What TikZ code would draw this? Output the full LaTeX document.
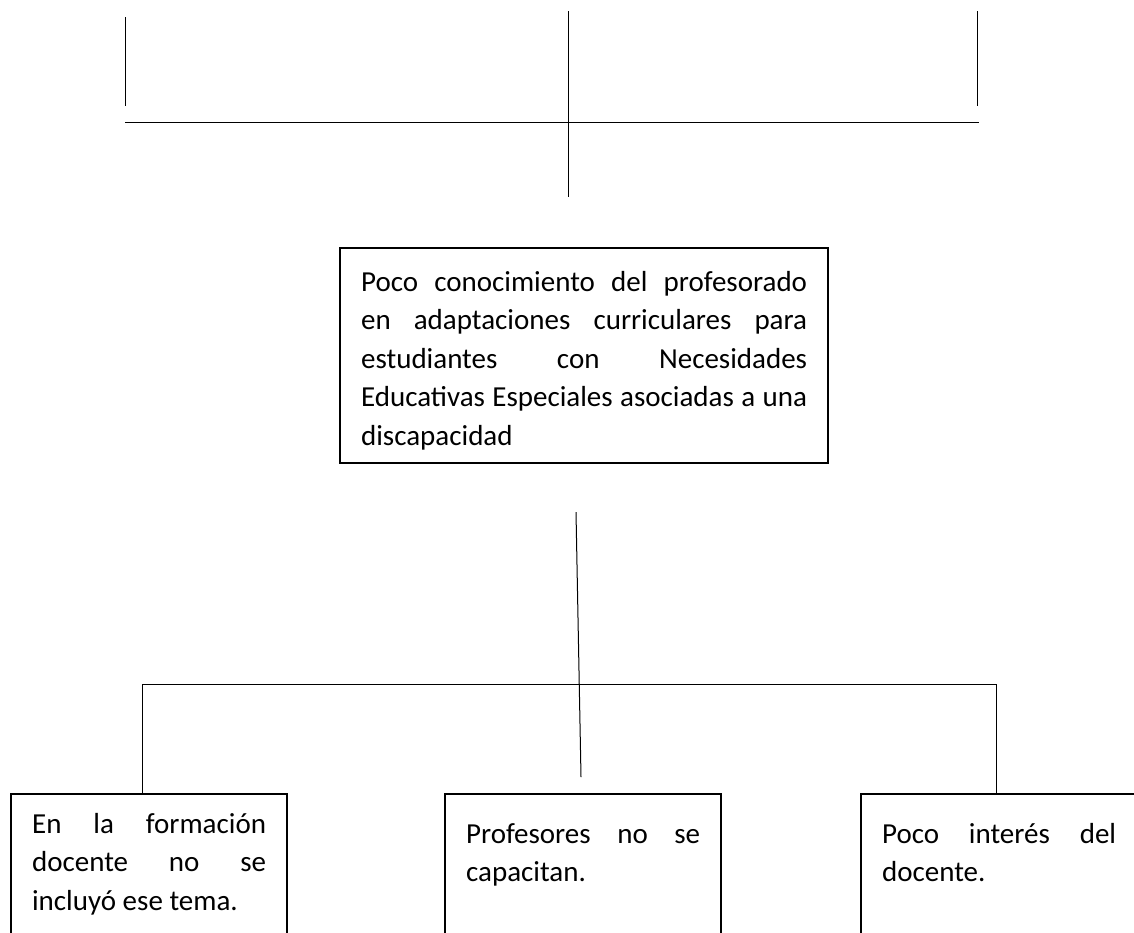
\documentclass[tikz,border=0pt]{standalone}
\usepackage{fontspec}
\setmainfont{Carlito}
\usetikzlibrary{calc}
\tolerance=10000
\hyphenpenalty=10000
\tikzset{
  caja/.style={draw, line width=2.2pt, inner xsep=21pt, inner ysep=0pt,
    align=justify, anchor=base west, font=\fontsize{29}{38.5}\selectfont},
  linea/.style={line width=1pt}
}

\begin{document}
\begin{tikzpicture}[x=1pt,y=-1pt]
\useasboundingbox (0,0) rectangle (1134,932);
\clip (0,0) rectangle (1134,932);
%
% lineas de arriba
\coordinate (a1) at (125,17);
\coordinate (a2) at (125,106);
\coordinate (b1) at (568,11);
\coordinate (b2) at (568,197);
\coordinate (c1) at (977,11);
\coordinate (c2) at (977,106);
\coordinate (h1) at (125,122);
\coordinate (h2) at (979,122);
\draw[linea] (a1) -- (a2);
\draw[linea] (b1) -- (b2);
\draw[linea] (c1) -- (c2);
\draw[linea] (h1) -- (h2);
%
% problema
\node[caja, text width=446pt, text height=43pt, text depth=172pt] (p) at (339,291) {Poco conocimiento del profesorado\linebreak en adaptaciones curriculares para\linebreak estudiantes con Necesidades\linebreak Educativas Especiales asociadas a una\linebreak discapacidad};
%
% causas
\node[caja, text width=234pt, text height=39pt, text depth=130pt] (k1) at (10,833) {En la formación\linebreak docente no se\linebreak incluyó ese tema.};
\node[caja, text width=234pt, text height=49pt, text depth=120pt] (k2) at (444,843) {Profesores no se\linebreak capacitan.};
\node[caja, text width=234pt, text height=49pt, text depth=120pt] (k3) at (860,843) {Poco interés del\linebreak docente.};
%
% conectores
\coordinate (m1) at (576,512);
\coordinate (m2) at (581,777);
\coordinate (hl) at (142,684);
\coordinate (hr) at (996,684);
\draw[linea] (m1) -- (m2);
\draw[linea] (k1.north -| hl) -- (hl) -- (hr) -- (k3.north -| hr);
\end{tikzpicture}
\end{document}
